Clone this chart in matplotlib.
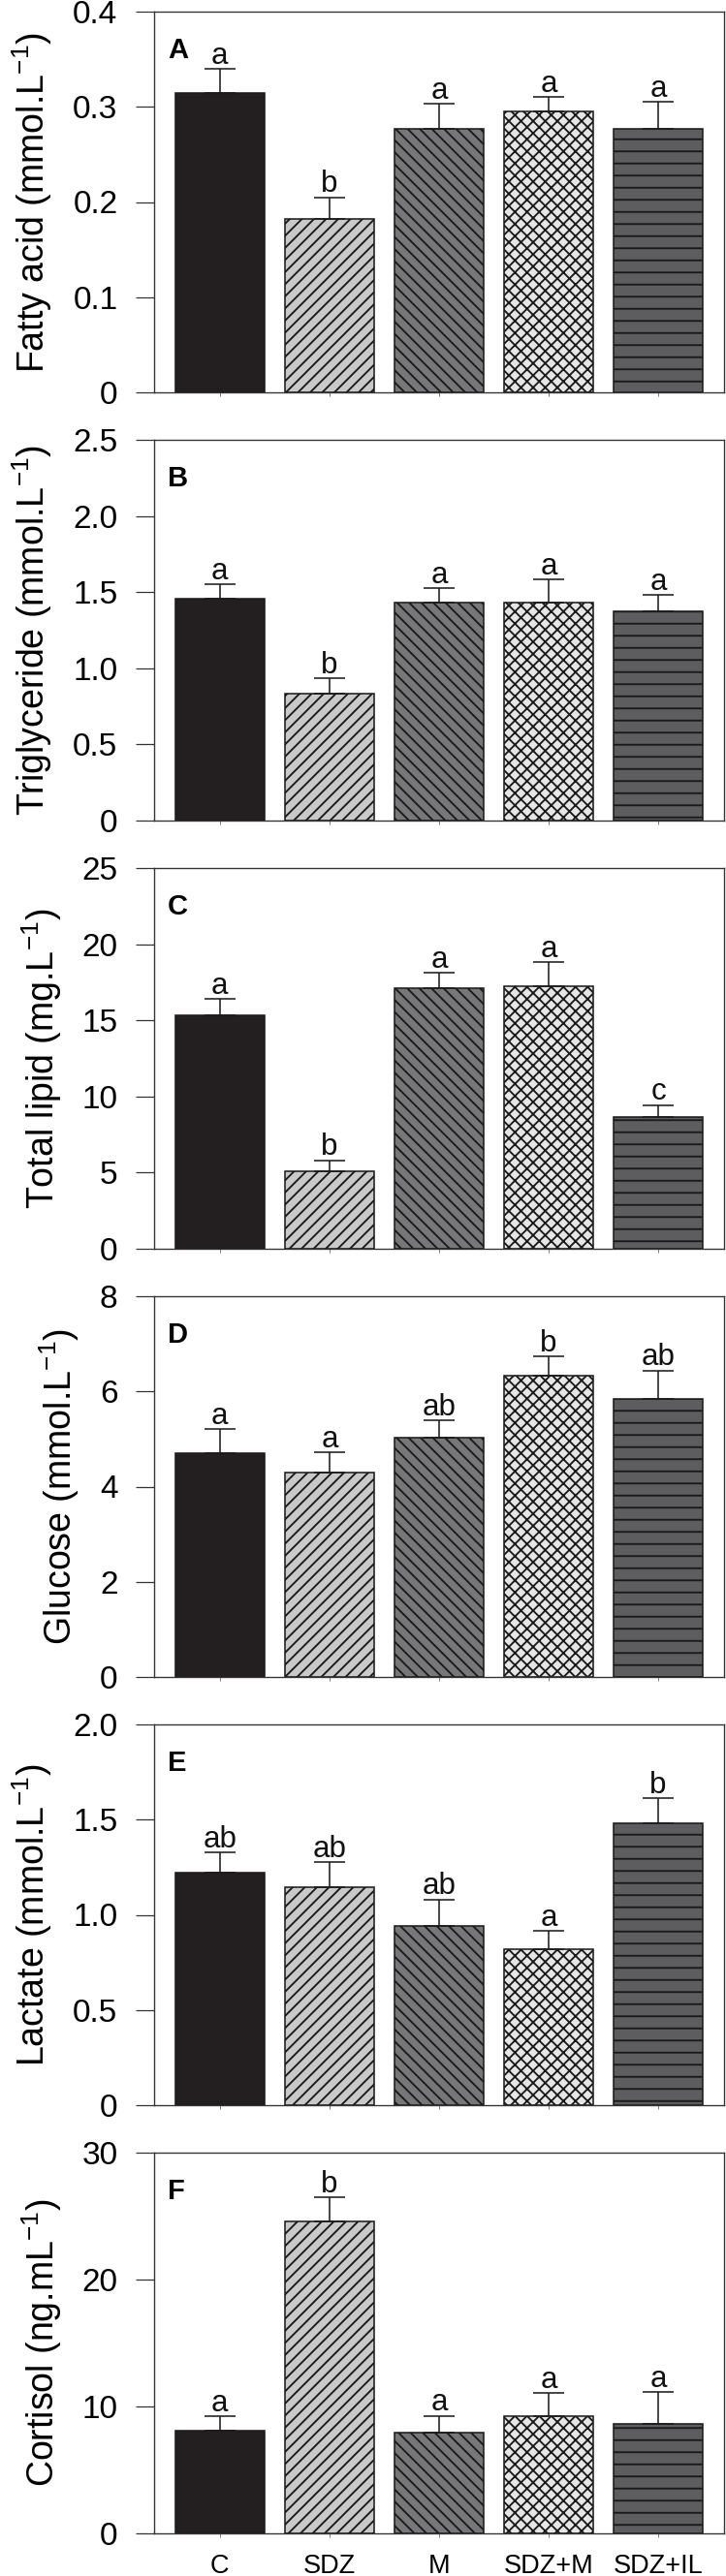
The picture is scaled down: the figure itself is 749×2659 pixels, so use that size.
import matplotlib
matplotlib.use('Agg')
import matplotlib.pyplot as plt
import numpy as np

plt.rcParams['font.family'] = ['Liberation Sans', 'DejaVu Sans']
plt.rcParams['mathtext.fontset'] = 'custom'
plt.rcParams['mathtext.rm'] = 'Liberation Sans'
plt.rcParams['mathtext.it'] = 'Liberation Sans'
plt.rcParams['hatch.linewidth'] = 1.8
plt.rcParams['axes.unicode_minus'] = False

# ---------------- data ----------------
groups = ['C', 'SDZ', 'M', 'SDZ+M', 'SDZ+IL']

fatty_mean = [0.314, 0.182, 0.277, 0.295, 0.277]
fatty_se = [0.026, 0.023, 0.026, 0.015, 0.028]
fatty_letters = ['a', 'b', 'a', 'a', 'a']

trig_mean = [1.456, 0.833, 1.430, 1.430, 1.371]
trig_se = [0.097, 0.099, 0.098, 0.155, 0.110]
trig_letters = ['a', 'b', 'a', 'a', 'a']

lipid_mean = [15.32, 5.09, 17.10, 17.21, 8.64]
lipid_se = [1.08, 0.72, 1.00, 1.59, 0.80]
lipid_letters = ['a', 'b', 'a', 'a', 'c']

glucose_mean = [4.71, 4.29, 5.02, 6.33, 5.84]
glucose_se = [0.50, 0.43, 0.37, 0.41, 0.60]
glucose_letters = ['a', 'a', 'ab', 'b', 'ab']

lactate_mean = [1.220, 1.144, 0.944, 0.820, 1.483]
lactate_se = [0.107, 0.134, 0.137, 0.094, 0.129]
lactate_letters = ['ab', 'ab', 'ab', 'a', 'b']

cortisol_mean = [8.10, 24.55, 7.97, 9.24, 8.61]
cortisol_se = [1.12, 1.91, 1.30, 1.84, 2.54]
cortisol_letters = ['a', 'b', 'a', 'a', 'a']

fatty_ticks = [0, 0.1, 0.2, 0.3, 0.4]
fatty_ticklabels = ['0', '0.1', '0.2', '0.3', '0.4']
trig_ticks = [0, 0.5, 1.0, 1.5, 2.0, 2.5]
trig_ticklabels = ['0', '0.5', '1.0', '1.5', '2.0', '2.5']
lipid_ticks = [0, 5, 10, 15, 20, 25]
lipid_ticklabels = ['0', '5', '10', '15', '20', '25']
glucose_ticks = [0, 2, 4, 6, 8]
glucose_ticklabels = ['0', '2', '4', '6', '8']
lactate_ticks = [0, 0.5, 1.0, 1.5, 2.0]
lactate_ticklabels = ['0', '0.5', '1.0', '1.5', '2.0']
cortisol_ticks = [0, 10, 20, 30]
cortisol_ticklabels = ['0', '10', '20', '30']

panel_letters = ['A', 'B', 'C', 'D', 'E', 'F']
ylabels = [r'Fatty acid (mmol.L$^{\mathregular{-1}}$)',
           r'Triglyceride (mmol.L$^{\mathregular{-1}}$)',
           r'Total lipid (mg.L$^{\mathregular{-1}}$)',
           r'Glucose (mmol.L$^{\mathregular{-1}}$)',
           r'Lactate (mmol.L$^{\mathregular{-1}}$)',
           r'Cortisol (ng.mL$^{\mathregular{-1}}$)']

panels = [
    (fatty_mean, fatty_se, fatty_letters, fatty_ticks, fatty_ticklabels),
    (trig_mean, trig_se, trig_letters, trig_ticks, trig_ticklabels),
    (lipid_mean, lipid_se, lipid_letters, lipid_ticks, lipid_ticklabels),
    (glucose_mean, glucose_se, glucose_letters, glucose_ticks, glucose_ticklabels),
    (lactate_mean, lactate_se, lactate_letters, lactate_ticks, lactate_ticklabels),
    (cortisol_mean, cortisol_se, cortisol_letters, cortisol_ticks, cortisol_ticklabels),
]

# ---------------- style ----------------
face_colors = ['#231f20', '#c9c9c9', '#77777a', '#e6e6e6', '#5d5d60']
hatches = ['', '//', '\\\\', 'xx', '-']
edge = '#1a1a1a'

W, H = 749, 2659
DPI = 75
fig = plt.figure(figsize=(W / DPI, H / DPI), dpi=DPI)

ax_left = 159 / W
ax_width = 588 / W
ax_height = 393 / H
x = np.arange(len(groups))

for i, (mean, se, letters, ticks, ticklabels) in enumerate(panels):
    top_px = 12 + 442 * i
    bottom_frac = 1 - (top_px + 393) / H
    ax = fig.add_axes([ax_left, bottom_frac, ax_width, ax_height])
    ax.bar(x, mean, width=0.81, color=face_colors, edgecolor=edge,
           linewidth=1.5, zorder=2)
    for patch, h in zip(ax.patches, hatches):
        if h:
            patch.set_hatch(h)
    ax.errorbar(x, mean, yerr=[np.zeros(len(se)), se], fmt='none',
                ecolor=edge, elinewidth=1.5, capsize=15, capthick=1.5, zorder=3)
    for xi, m, s, lab in zip(x, mean, se, letters):
        ax.annotate(lab, (xi, m + s), xytext=(0, 5), textcoords='offset points',
                    ha='center', va='baseline', fontsize=30, color='#111111')
    ax.set_xlim(-0.6, 4.6)
    ax.set_ylim(ticks[0], ticks[-1])
    ax.set_yticks(ticks)
    ax.set_yticklabels(ticklabels)
    ax.set_xticks(x)
    ax.tick_params(axis='y', direction='out', length=18, width=1.2,
                   pad=18, labelsize=32, color='#333333')
    ax.tick_params(axis='x', direction='out', length=4, width=0.8,
                   color='#666666', pad=16, labelsize=26)
    if i < len(panels) - 1:
        ax.set_xticklabels([])
    else:
        ax.set_xticklabels(groups)
    for sp in ax.spines.values():
        sp.set_linewidth(1.3)
        sp.set_color('#333333')
    ax.set_ylabel(ylabels[i], fontsize=36, labelpad=18)
    ax.text(0.024, 0.935, panel_letters[i], transform=ax.transAxes,
            fontsize=28, fontweight='bold', ha='left', va='top')

fig.savefig('out.png', dpi=DPI)
